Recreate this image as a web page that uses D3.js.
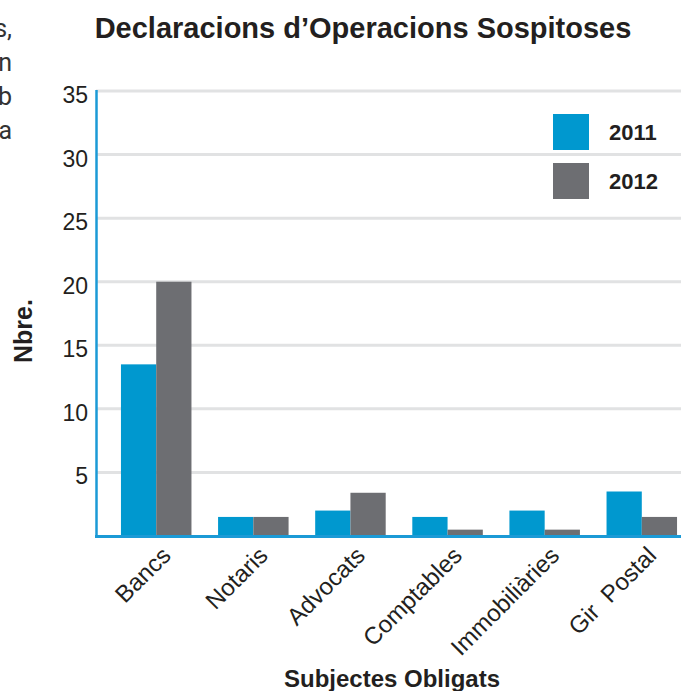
<!DOCTYPE html>
<html>
<head>
<meta charset="utf-8">
<script src="https://cdn.jsdelivr.net/npm/d3@7"></script>
<style>
  body { margin: 0; background: #fff; }
  svg { display: block; }
</style>
</head>
<body>
<script>
// Data
const categories = ["Bancs", "Notaris", "Advocats", "Comptables", "Immobiliàries", "Gir  Postal"];
const years = ["2011", "2012"];
const values2011 = [13.5, 1.5, 2, 1.5, 2, 3.5];
const values2012 = [20, 1.5, 3.4, 0.5, 0.5, 1.5];
const yTicks = [5, 10, 15, 20, 25, 30, 35];
const sideText = ["s,", "n", "b", "a"]; // cut-off text from the page on the left

const width = 681, height = 691;
const colors = { "2011": "#0098cf", "2012": "#6d6e72" };
const axisBlue = "#1b9ad6";

const svg = d3.select("body").append("svg")
  .attr("width", width)
  .attr("height", height);

// Scales
const x = d3.scaleBand()
  .domain(categories)
  .range([96, 702])
  .paddingInner(0.274)
  .paddingOuter(0.257);

const xSub = d3.scaleBand()
  .domain(years)
  .range([0, x.bandwidth()]);

const y = d3.scaleLinear()
  .domain([0, 35])
  .range([536, 91]);

// left cut-off text
svg.append("g").selectAll("text")
  .data(sideText)
  .enter().append("text")
  .attr("x", 12)
  .attr("y", (d, i) => 37 + i * 34)
  .attr("text-anchor", "end")
  .style("font-family", "Roboto, sans-serif")
  .style("font-size", "25px")
  .attr("fill", "#333")
  .text(d => d);

// Title
svg.append("text")
  .attr("x", 363)
  .attr("y", 38)
  .attr("text-anchor", "middle")
  .style("font-family", "'Liberation Sans', Arial, sans-serif")
  .style("font-weight", "bold")
  .style("font-size", "29px")
  .attr("fill", "#231f20")
  .text("Declaracions d’Operacions Sospitoses");

// Gridlines
svg.append("g").selectAll("line")
  .data(yTicks)
  .enter().append("line")
  .attr("x1", 96)
  .attr("x2", width)
  .attr("y1", d => y(d))
  .attr("y2", d => y(d))
  .attr("stroke", "#e1e2e3")
  .attr("stroke-width", 3);

// Y tick labels
svg.append("g").selectAll("text")
  .data(yTicks)
  .enter().append("text")
  .attr("x", 88)
  .attr("y", d => y(d) + 12)
  .attr("text-anchor", "end")
  .style("font-family", "'Liberation Sans', Arial, sans-serif")
  .style("font-size", "23px")
  .attr("fill", "#231f20")
  .text(d => d);

// Bars
const groups = svg.append("g").selectAll("g")
  .data(categories)
  .enter().append("g")
  .attr("transform", d => `translate(${x(d)},0)`);

groups.selectAll("rect")
  .data((d, i) => [
    { year: "2011", value: values2011[i] },
    { year: "2012", value: values2012[i] }
  ])
  .enter().append("rect")
  .attr("x", d => xSub(d.year))
  .attr("width", xSub.bandwidth())
  .attr("y", d => y(d.value))
  .attr("height", d => y(0) - y(d.value))
  .attr("fill", d => colors[d.year]);

// Axes lines
svg.append("line")
  .attr("x1", 96.5).attr("x2", 96.5)
  .attr("y1", 90).attr("y2", 537)
  .attr("stroke", axisBlue)
  .attr("stroke-width", 2.5);

svg.append("line")
  .attr("x1", 95).attr("x2", width)
  .attr("y1", 536.5).attr("y2", 536.5)
  .attr("stroke", axisBlue)
  .attr("stroke-width", 3);

// Category labels
svg.append("g").selectAll("text")
  .data(categories)
  .enter().append("text")
  .attr("transform", d => `translate(${x(d) + x.bandwidth() / 2 + 16},557) rotate(-45)`)
  .attr("text-anchor", "end")
  .style("font-family", "'Liberation Sans', Arial, sans-serif")
  .style("font-size", "24px")
  .style("white-space", "pre")
  .attr("fill", "#231f20")
  .text(d => d);

// Axis titles
svg.append("text")
  .attr("x", 392)
  .attr("y", 687)
  .attr("text-anchor", "middle")
  .style("font-family", "'Liberation Sans', Arial, sans-serif")
  .style("font-weight", "bold")
  .style("font-size", "24px")
  .attr("fill", "#231f20")
  .text("Subjectes Obligats");

svg.append("text")
  .attr("transform", "translate(32,331) rotate(-90)")
  .attr("text-anchor", "middle")
  .style("font-family", "'Liberation Sans', Arial, sans-serif")
  .style("font-weight", "bold")
  .style("font-size", "25px")
  .attr("fill", "#231f20")
  .text("Nbre.");

// Legend
const legend = svg.append("g").selectAll("g")
  .data(years)
  .enter().append("g")
  .attr("transform", (d, i) => `translate(553,${114 + i * 49})`);

legend.append("rect")
  .attr("width", 36)
  .attr("height", 36)
  .attr("fill", d => colors[d]);

legend.append("text")
  .attr("x", 56)
  .attr("y", 26)
  .style("font-family", "'Liberation Sans', Arial, sans-serif")
  .style("font-weight", "bold")
  .style("font-size", "22px")
  .attr("fill", "#231f20")
  .text(d => d);
</script>
</body>
</html>
